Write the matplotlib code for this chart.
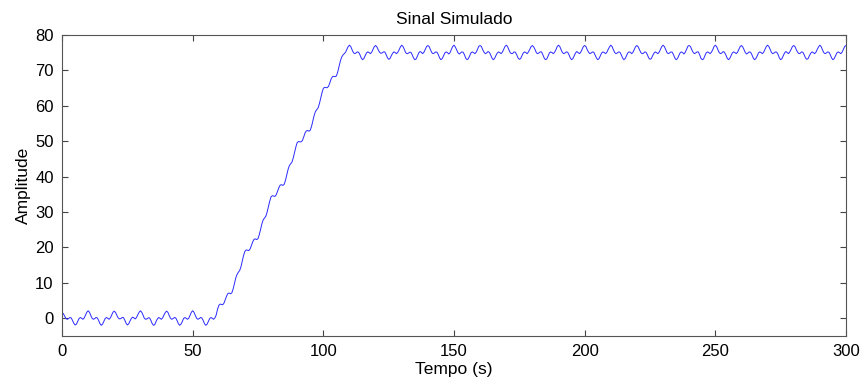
import matplotlib.pyplot as plt
import numpy as np

# Tempo (s), um ponto a cada 0.5 s
tempo = np.arange(0, 601) * 0.5

# Amplitude, uma linha por periodo de 10 s
amplitude = [
    1.6, 1.3, 0.6, -0.1, -0.3, -0.1, 0.2, 0.1, -0.6, -1.4, -1.9, -1.7, -0.9, -0.1, 0.2, 0.0, -0.3, 0.1, 0.9, 1.7,
    2.1, 1.7, 0.8, 0.0, -0.3, -0.1, 0.2, 0.1, -0.6, -1.5, -2.0, -1.7, -0.9, -0.1, 0.2, 0.0, -0.3, 0.1, 0.9, 1.7,
    2.0, 1.6, 0.8, 0.1, -0.2, -0.1, 0.2, 0.2, -0.5, -1.4, -1.9, -1.6, -0.8, -0.1, 0.3, 0.1, -0.2, 0.2, 1.0, 1.7,
    2.1, 1.7, 0.9, 0.0, -0.3, -0.2, 0.1, 0.1, -0.6, -1.5, -2.0, -1.8, -0.9, -0.2, 0.2, 0.0, -0.3, 0.1, 0.9, 1.6,
    2.0, 1.7, 0.8, 0.0, -0.3, -0.1, 0.2, 0.1, -0.6, -1.5, -2.0, -1.7, -1.0, -0.1, 0.2, 0.0, -0.3, 0.0, 0.8, 1.7,
    2.1, 1.7, 0.8, 0.0, -0.3, -0.1, 0.2, 0.1, -0.6, -1.5, -2.0, -1.7, -0.9, -0.1, 0.2, 0.0, -0.3, 0.1, 0.9, 2.5,
    3.6, 4.0, 3.9, 3.8, 4.3, 5.3, 6.3, 7.0, 7.1, 6.9, 7.2, 8.3, 9.8, 11.4, 12.4, 13.0, 13.5, 14.6, 16.2, 17.8,
    18.9, 19.3, 19.2, 19.1, 19.6, 20.6, 21.6, 22.3, 22.4, 22.2, 22.5, 23.6, 25.1, 26.7, 27.8, 28.3, 28.8, 30.0, 31.5, 33.1,
    34.3, 34.6, 34.5, 34.4, 34.9, 35.9, 36.9, 37.6, 37.7, 37.5, 37.8, 38.9, 40.4, 42.0, 43.1, 43.6, 44.1, 45.3, 46.8, 48.4,
    49.6, 49.9, 49.8, 49.8, 50.2, 51.2, 52.3, 52.9, 53.0, 52.8, 53.1, 54.2, 55.7, 57.3, 58.4, 58.9, 59.4, 60.6, 62.1, 63.7,
    64.9, 65.2, 65.1, 65.1, 65.5, 66.5, 67.6, 68.2, 68.3, 68.2, 68.4, 69.5, 71.1, 72.6, 73.7, 74.3, 74.7, 75.1, 75.9, 76.7,
    77.1, 76.7, 75.8, 75.0, 74.7, 74.9, 75.2, 75.1, 74.4, 73.5, 73.0, 73.3, 74.1, 74.9, 75.2, 75.0, 74.7, 75.1, 75.9, 76.7,
    77.0, 76.6, 75.8, 75.1, 74.8, 74.9, 75.2, 75.2, 74.5, 73.6, 73.1, 73.3, 74.1, 74.8, 75.2, 75.0, 74.7, 75.1, 75.8, 76.6,
    77.1, 76.7, 75.9, 75.0, 74.7, 74.8, 75.1, 75.1, 74.4, 73.5, 73.0, 73.2, 74.0, 74.9, 75.3, 75.1, 74.7, 75.1, 75.9, 76.7,
    77.0, 76.7, 75.8, 75.0, 74.7, 74.9, 75.2, 75.1, 74.4, 73.5, 73.0, 73.3, 74.1, 74.9, 75.2, 75.0, 74.6, 75.0, 75.9, 76.7,
    77.1, 76.6, 75.8, 75.0, 74.6, 74.9, 75.2, 75.1, 74.4, 73.4, 73.0, 73.3, 74.1, 74.9, 75.2, 75.0, 74.7, 75.1, 75.9, 76.8,
    77.0, 76.7, 75.8, 75.1, 74.7, 74.9, 75.3, 75.1, 74.4, 73.5, 73.0, 73.3, 74.1, 74.8, 75.2, 75.0, 74.7, 75.1, 75.9, 76.7,
    77.1, 76.7, 75.8, 75.0, 74.7, 74.8, 75.2, 75.1, 74.4, 73.5, 73.1, 73.3, 74.1, 74.9, 75.2, 75.0, 74.7, 75.2, 75.9, 76.7,
    77.0, 76.6, 75.9, 75.0, 74.7, 74.9, 75.2, 75.2, 74.4, 73.5, 73.0, 73.2, 74.0, 74.9, 75.2, 75.0, 74.7, 75.1, 75.8, 76.7,
    77.1, 76.7, 75.8, 75.0, 74.7, 74.9, 75.2, 75.1, 74.4, 73.5, 73.0, 73.3, 74.1, 74.9, 75.3, 75.0, 74.7, 75.1, 75.9, 76.7,
    77.0, 76.7, 75.8, 75.1, 74.7, 74.9, 75.2, 75.1, 74.3, 73.5, 73.0, 73.3, 74.1, 74.9, 75.2, 75.0, 74.7, 75.1, 75.9, 76.6,
    77.1, 76.7, 75.8, 75.0, 74.7, 74.9, 75.2, 75.1, 74.4, 73.5, 73.0, 73.3, 74.1, 74.9, 75.2, 75.1, 74.7, 75.1, 75.9, 76.7,
    77.0, 76.6, 75.8, 75.0, 74.7, 74.8, 75.2, 75.1, 74.4, 73.5, 73.1, 73.3, 74.1, 74.8, 75.2, 75.0, 74.7, 75.1, 75.9, 76.7,
    77.1, 76.7, 75.9, 75.0, 74.7, 74.9, 75.2, 75.1, 74.4, 73.5, 73.0, 73.3, 74.1, 74.9, 75.2, 75.0, 74.6, 75.1, 75.9, 76.8,
    77.0, 76.7, 75.8, 75.1, 74.7, 74.9, 75.2, 75.2, 74.4, 73.4, 73.0, 73.2, 74.1, 74.9, 75.2, 75.0, 74.7, 75.1, 75.8, 76.7,
    77.1, 76.7, 75.8, 75.0, 74.7, 74.9, 75.3, 75.1, 74.4, 73.5, 73.0, 73.3, 74.1, 74.9, 75.2, 75.0, 74.7, 75.1, 75.9, 76.7,
    77.0, 76.6, 75.8, 75.0, 74.6, 74.9, 75.2, 75.1, 74.4, 73.5, 73.0, 73.3, 74.0, 74.9, 75.2, 75.0, 74.7, 75.1, 75.9, 76.7,
    77.1, 76.7, 75.9, 75.0, 74.7, 74.9, 75.2, 75.1, 74.5, 73.5, 73.0, 73.3, 74.1, 74.9, 75.3, 75.0, 74.7, 75.2, 75.9, 76.7,
    77.0, 76.7, 75.8, 75.1, 74.7, 74.8, 75.2, 75.1, 74.4, 73.5, 73.1, 73.3, 74.1, 74.8, 75.2, 75.0, 74.7, 75.1, 75.9, 76.6,
    77.1, 76.7, 75.8, 75.0, 74.7, 74.9, 75.2, 75.1, 74.4, 73.5, 73.0, 73.3, 74.1, 74.9, 75.2, 75.0, 74.7, 75.1, 75.9, 76.7,
    77.0,
]

xticks = [0, 50, 100, 150, 200, 250, 300]
yticks = [0, 10, 20, 30, 40, 50, 60, 70, 80]

plt.rcParams['font.family'] = ['Liberation Sans', 'DejaVu Sans']

fig = plt.figure(figsize=(8.65, 3.92), dpi=100)
ax = fig.add_axes([0.0717, 0.143, 0.9063, 0.768])

ax.plot(tempo, amplitude, color='#2a2aff', linewidth=0.7)

ax.set_xlim(0, 300)
ax.set_ylim(-5, 80)
ax.set_xticks(xticks)
ax.set_yticks(yticks)
ax.tick_params(direction='in', top=True, right=True, length=4, width=0.8,
               color='#444444', labelsize=12, pad=6)
for s in ax.spines.values():
    s.set_color('#555555')
    s.set_linewidth(0.8)

ax.set_title("Sinal Simulado", fontsize=12.5, pad=8)
ax.set_xlabel("Tempo (s)", fontsize=12.5, labelpad=2)
ax.set_ylabel("Amplitude", fontsize=12.5, labelpad=3)

fig.savefig("out.png", dpi=100)
